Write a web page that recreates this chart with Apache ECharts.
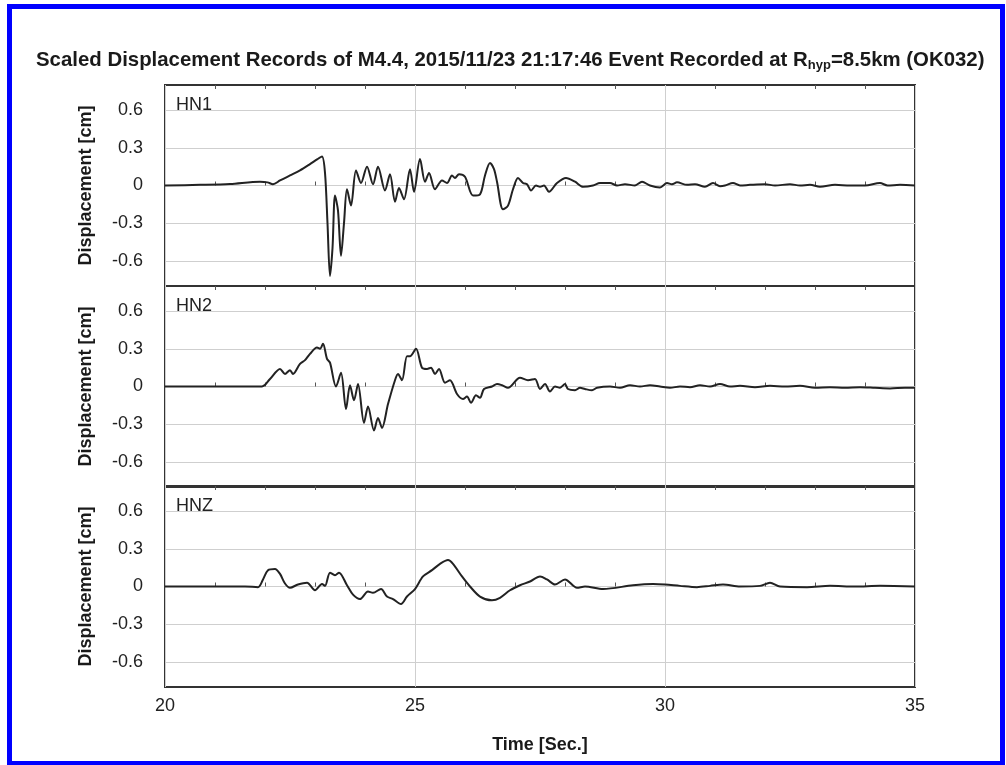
<!DOCTYPE html>
<html>
<head>
<meta charset="utf-8">
<script src="https://cdn.jsdelivr.net/npm/echarts@6/dist/echarts.min.js"></script>
<style>
  html, body { margin: 0; padding: 0; background: #fff; }
  #chart { width: 1006px; height: 765px; }
</style>
</head>
<body>
<div id="chart"></div>
<script>
// Time axis [sec] and displacement ticks [cm]
var xTicks = [20, 25, 30, 35];
var yTicks = [-0.6, -0.3, 0, 0.3, 0.6];
var channels = ['HN1', 'HN2', 'HNZ'];

// [time, displacement]
var hn1 = [
  [20.0, 0], [20.7, 0.005], [21.3, 0.012], [21.9, 0.03], [22.05, 0.025], [22.16, 0.01],
  [22.3, 0.04], [22.5, 0.08], [22.7, 0.12], [22.9, 0.17], [23.05, 0.21], [23.14, 0.23],
  [23.2, 0.1], [23.25, -0.3], [23.3, -0.72], [23.35, -0.5], [23.4, -0.08], [23.46, -0.2],
  [23.52, -0.56], [23.58, -0.3], [23.64, -0.03], [23.72, -0.16], [23.82, 0.12], [23.92, 0.02],
  [24.04, 0.15], [24.16, 0.01], [24.26, 0.15], [24.40, -0.04], [24.50, 0.09], [24.60, -0.13],
  [24.68, -0.02], [24.78, -0.11], [24.90, 0.13], [24.98, -0.05], [25.10, 0.21], [25.20, 0.03],
  [25.28, 0.10], [25.40, -0.03], [25.54, 0.04], [25.64, 0.02], [25.74, 0.08], [25.80, 0.06],
  [25.88, 0.09], [26.00, 0.07], [26.16, -0.08], [26.30, -0.07], [26.40, 0.08], [26.50, 0.18],
  [26.58, 0.13], [26.64, 0.03], [26.76, -0.19], [26.86, -0.16], [26.96, -0.03], [27.06, 0.06],
  [27.16, 0.02], [27.24, 0.01], [27.32, -0.04], [27.42, 0.0], [27.50, -0.01], [27.58, 0.0],
  [27.68, -0.05], [27.84, 0.02], [28.02, 0.06], [28.20, 0.03], [28.36, -0.01], [28.56, 0.0],
  [28.70, 0.02], [28.90, 0.02], [29.04, 0.0], [29.2, 0.01], [29.4, 0.0], [29.54, 0.03],
  [29.7, 0.0], [29.9, -0.015], [30.04, 0.02], [30.14, 0.01], [30.24, 0.025], [30.44, 0.005],
  [30.6, 0.01], [30.8, -0.01], [30.96, 0.02], [31.1, -0.005], [31.2, 0.0], [31.36, 0.02],
  [31.5, 0.0], [31.7, 0.005], [32.0, 0.01], [32.2, 0.0], [32.5, 0.01], [32.7, 0.0],
  [32.9, 0.005], [33.1, -0.01], [33.4, 0.005], [33.7, 0.0], [34.0, 0.0], [34.3, 0.02],
  [34.45, 0.0], [34.7, 0.005], [35.0, 0.0]
];

var hn2 = [
  [20, 0], [21.94, 0], [22.1, 0.06], [22.3, 0.14], [22.4, 0.1], [22.5, 0.13], [22.56, 0.1],
  [22.7, 0.18], [22.8, 0.21], [22.9, 0.26], [23.04, 0.31], [23.1, 0.3], [23.16, 0.34],
  [23.24, 0.22], [23.3, 0.19], [23.42, 0], [23.52, 0.11], [23.62, -0.18], [23.7, 0.01],
  [23.78, -0.11], [23.86, 0.02], [23.98, -0.29], [24.06, -0.16], [24.18, -0.35], [24.26, -0.25],
  [24.34, -0.33], [24.46, -0.14], [24.6, 0.05], [24.66, 0.1], [24.74, 0.05], [24.84, 0.24],
  [24.9, 0.24], [25.02, 0.3], [25.14, 0.15], [25.24, 0.14], [25.32, 0.15], [25.4, 0.1],
  [25.48, 0.14], [25.6, 0.03], [25.7, 0.05], [25.84, -0.06], [25.96, -0.1], [26.04, -0.08],
  [26.12, -0.13], [26.22, -0.07], [26.3, -0.09], [26.38, -0.02], [26.54, 0], [26.64, 0.02],
  [26.74, 0.01], [26.86, -0.01], [27.1, 0.07], [27.26, 0.05], [27.4, 0.06], [27.5, -0.02],
  [27.6, 0.02], [27.7, -0.04], [27.8, 0], [27.9, -0.01], [28.0, 0.02], [28.06, -0.02],
  [28.2, -0.03], [28.3, -0.01], [28.4, -0.02], [28.54, -0.03], [28.64, -0.01], [28.9, 0.0],
  [29.1, -0.01], [29.3, 0.01], [29.5, 0.0], [29.7, 0.01], [29.9, 0.0], [30.1, -0.01],
  [30.3, 0.0], [30.5, -0.005], [30.7, 0.01], [30.9, 0.0], [31.1, 0.02], [31.3, 0.0],
  [31.5, 0.005], [31.8, -0.005], [32.1, 0.005], [32.4, 0.0], [32.7, 0.005], [33.0, -0.01],
  [33.3, -0.005], [33.6, -0.01], [33.9, -0.005], [34.2, -0.01], [34.5, -0.015], [34.8, -0.01],
  [35, -0.01]
];

var hnz = [
  [20, 0], [21.6, 0], [21.86, -0.005], [21.96, 0.056], [22.06, 0.13], [22.2, 0.14], [22.3, 0.1],
  [22.4, 0.024], [22.5, -0.01], [22.66, 0.016], [22.84, 0.03], [23.0, -0.03], [23.14, 0.02],
  [23.2, 0.005], [23.3, 0.11], [23.4, 0.09], [23.48, 0.11], [23.64, 0.01], [23.76, -0.065],
  [23.9, -0.1], [24.06, -0.04], [24.16, -0.05], [24.32, -0.02], [24.44, -0.08], [24.56, -0.1],
  [24.72, -0.14], [24.84, -0.08], [25.0, -0.02], [25.16, 0.08], [25.34, 0.13], [25.5, 0.18],
  [25.66, 0.21], [25.76, 0.18], [25.94, 0.08], [26.1, 0], [26.3, -0.08], [26.54, -0.11],
  [26.7, -0.09], [26.9, -0.03], [27.1, 0.01], [27.3, 0.04], [27.5, 0.08], [27.64, 0.056],
  [27.8, 0.016], [28.0, 0.056], [28.24, -0.01], [28.4, 0], [28.76, -0.02], [29.36, 0.01],
  [29.76, 0.02], [30.0, 0.016], [30.3, 0.005], [30.64, -0.005], [30.9, 0.005], [31.16, 0.016],
  [31.5, 0.0], [31.9, 0.005], [32.1, 0.03], [32.3, 0.0], [32.84, -0.005], [33.3, 0.005],
  [33.8, 0.0], [34.3, 0.005], [35, 0]
];

var records = [hn1, hn2, hnz];

var myChart = echarts.init(document.getElementById('chart'));

var tops = [85, 286, 486];
var fontFamily = 'Liberation Sans, Arial, sans-serif';

var grids = [], xAxes = [], yAxes = [], series = [], titles = [];

titles.push({
  text: '{a|Scaled Displacement Records of M4.4, 2015/11/23 21:17:46 Event Recorded at R}{s|hyp}{a|=8.5km (OK032)}',
  left: 31,
  top: 43,
  textStyle: {
    rich: {
      a: { fontFamily: fontFamily, fontWeight: 'bold', fontSize: 20.4, color: '#1a1a1a' },
      s: { fontFamily: fontFamily, fontWeight: 'bold', fontSize: 13, color: '#1a1a1a', padding: [11, 0, 0, 0] }
    }
  }
});

channels.forEach(function (name, i) {
  grids.push({
    left: 165, width: 750, top: tops[i], height: 201,
    show: true, borderColor: '#333', borderWidth: 2, backgroundColor: 'transparent'
  });
  titles.push({
    text: name, left: 171, top: tops[i] + 6,
    textStyle: { fontFamily: fontFamily, fontWeight: 'normal', fontSize: 18, color: '#222' }
  });

  var last = i === channels.length - 1;
  // bottom axis
  xAxes.push({
    type: 'value', gridIndex: i, min: 20, max: 35, interval: 5, position: 'bottom',
    axisLine: { show: false },
    axisTick: { show: false, inside: true },
    minorTick: { show: true, splitNumber: 5, length: 4, lineStyle: { color: '#555', width: 1 } },
    minorSplitLine: { show: false },
    splitLine: { show: true, lineStyle: { color: '#cfcfcf', width: 1 } },
    axisLabel: {
      show: last, margin: 10, fontSize: 18, color: '#222', fontFamily: fontFamily,
      customValues: xTicks
    },
    name: last ? 'Time [Sec.]' : '',
    nameLocation: 'middle', nameGap: 49,
    nameTextStyle: { fontFamily: fontFamily, fontWeight: 'bold', fontSize: 18, color: '#1a1a1a' }
  });
  // top axis: only inner minor ticks
  xAxes.push({
    type: 'value', gridIndex: i, min: 20, max: 35, interval: 5, position: 'top',
    axisLine: { show: false }, axisTick: { show: false, inside: true },
    minorTick: { show: true, splitNumber: 5, length: 4, lineStyle: { color: '#555', width: 1 } },
    splitLine: { show: false }, axisLabel: { show: false }
  });

  yAxes.push({
    type: 'value', gridIndex: i, min: -0.8, max: 0.8,
    axisLine: { show: false },
    axisTick: { show: false, customValues: yTicks },
    splitLine: { show: true, lineStyle: { color: '#cfcfcf', width: 1 } },
    axisLabel: {
      margin: 22, fontSize: 18, color: '#222', fontFamily: fontFamily,
      customValues: yTicks,
      formatter: function (v) { return String(Math.round(v * 10) / 10); }
    },
    name: 'Displacement [cm]',
    nameLocation: 'middle', nameGap: 70,
    nameTextStyle: { fontFamily: fontFamily, fontWeight: 'bold', fontSize: 18, color: '#1a1a1a' }
  });

  series.push({
    type: 'line',
    xAxisIndex: i * 2,
    yAxisIndex: i,
    data: records[i],
    showSymbol: false,
    smooth: 0.3,
    lineStyle: { color: '#222', width: 2 },
    silent: true
  });
});

var option = {
  animation: false,
  backgroundColor: '#fff',
  title: titles,
  grid: grids,
  xAxis: xAxes,
  yAxis: yAxes,
  series: series,
  graphic: [{
    type: 'rect',
    shape: { x: 9.5, y: 6.5, width: 993, height: 757 },
    style: { fill: 'none', stroke: '#0000ff', lineWidth: 5 },
    silent: true
  }]
};

myChart.setOption(option);
</script>
</body>
</html>
